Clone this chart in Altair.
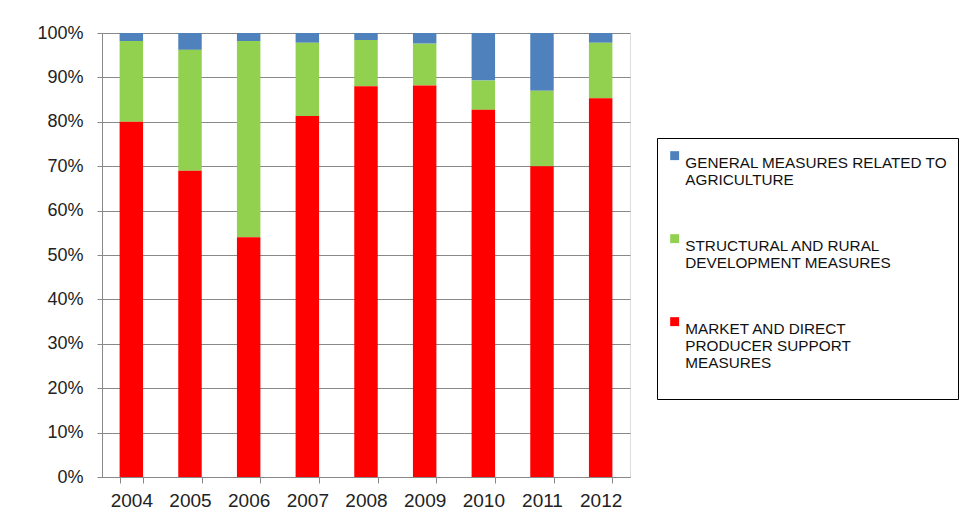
import altair as alt
import pandas as pd

years = ["2004", "2005", "2006", "2007", "2008", "2009", "2010", "2011", "2012"]
market = [80.0, 69.0, 54.0, 81.3, 88.0, 88.2, 82.7, 70.0, 85.3]
structural = [18.2, 27.2, 44.2, 16.5, 10.4, 9.4, 6.6, 17.0, 12.5]
general = [1.8, 3.8, 1.8, 2.2, 1.6, 2.4, 10.7, 13.0, 2.2]

series_names = [
    "GENERAL MEASURES RELATED TO|AGRICULTURE",
    "STRUCTURAL AND RURAL|DEVELOPMENT MEASURES",
    "MARKET AND DIRECT|PRODUCER SUPPORT|MEASURES|",
]
series_colors = ["#4F81BD", "#92D050", "#FF0000"]
series_values = [general, structural, market]
stack_rank = [2, 1, 0]

rows = []
for name, vals, rank in zip(series_names, series_values, stack_rank):
    for y, v in zip(years, vals):
        rows.append({"year": y, "series": name, "value": v, "rank": rank})
df = pd.DataFrame(rows)

font = "Liberation Sans"

chart = alt.Chart(df).mark_bar().encode(
    x=alt.X(
        "year:O",
        title=None,
        scale=alt.Scale(paddingInner=0.6, paddingOuter=0.3),
        axis=alt.Axis(
            labelAngle=0,
            tickBand="extent",
            grid=False,
            labelFontSize=19,
            labelFont=font,
            labelColor="#222222",
            labelPadding=8,
            tickSize=6,
            tickColor="#888888",
            domainColor="#888888",
        ),
    ),
    y=alt.Y(
        "value:Q",
        stack="normalize",
        title=None,
        scale=alt.Scale(domain=[0, 1]),
        axis=alt.Axis(
            values=[i / 10 for i in range(11)],
            format=".0%",
            labelFontSize=18,
            labelFont=font,
            labelColor="#222222",
            labelPadding=14,
            tickSize=5,
            tickColor="#888888",
            domainColor="#888888",
            gridColor="#888888",
            gridWidth=1,
        ),
    ),
    color=alt.Color(
        "series:N",
        scale=alt.Scale(domain=series_names, range=series_colors),
        legend=alt.Legend(
            title=None,
            orient="none",
            legendX=555,
            legendY=105,
            direction="vertical",
            symbolType="square",
            symbolSize=80,
            symbolStrokeWidth=0,
            labelExpr="split(datum.label, '|')",
            labelFontSize=15.3,
            labelFont=font,
            labelColor="#111111",
            labelLimit=400,
            labelBaseline="top",
            labelOffset=3,
            rowPadding=42,
            padding=10,
            strokeColor="#000000",
            fillColor="#ffffff",
        ),
    ),
    order=alt.Order("rank:Q", sort="ascending"),
).properties(
    width=528,
    height=444,
    autosize=alt.AutoSizeParams(type="none"),
    padding={"left": 102, "top": 33, "right": 339, "bottom": 49},
).configure_view(
    stroke=None
).configure(
    background="#ffffff"
)

chart.save("out.html", embed_options={"renderer": "svg", "actions": False})
